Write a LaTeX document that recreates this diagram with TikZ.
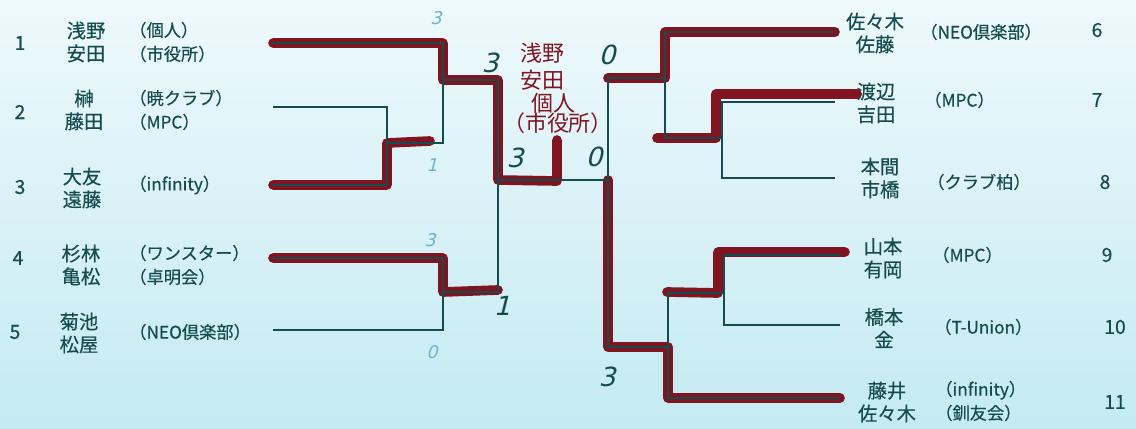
\documentclass[tikz,border=0pt]{standalone}
\usepackage{fontspec}
\setmainfont{Noto Sans CJK JP}[FakeBold=0.4]
\newfontfamily\penfont[FakeSlant=0.25]{DejaVu Sans}
\newfontfamily\brushfont{Noto Sans CJK JP}
\usetikzlibrary{positioning,calc}

\definecolor{ink}{RGB}{22,76,78}
\definecolor{marker}{RGB}{128,20,32}
\definecolor{paperhi}{RGB}{238,249,251}
\definecolor{paperlo}{RGB}{196,234,243}
\definecolor{faint}{RGB}{105,185,200}

\begin{document}
\begin{tikzpicture}[x=0.02cm, y=-0.02cm,
    player/.style={align=center, text=ink, inner sep=0pt, font=\fontsize{11}{13}\selectfont},
    team/.style={anchor=west, align=left, text=ink, inner sep=0pt, font=\fontsize{9.8}{13.6}\selectfont},
    seed/.style={text=ink, inner sep=0pt, font=\fontsize{11}{13}\selectfont},
    bline/.style={ink, line width=0.9pt},
    win/.style={marker, line width=5.5pt, line cap=round, line join=round},
    score/.style={text=ink, inner sep=0pt, font=\penfont\fontsize{15}{15}\selectfont},
    ghost/.style={text=faint, inner sep=0pt, font=\penfont\fontsize{10}{10}\selectfont},
    hand/.style={text=marker, inner sep=0pt, font=\brushfont\fontsize{12.5}{13}\selectfont}]
  \shade[top color=paperhi, bottom color=paperlo] (0,0) rectangle (1136,429);
  \useasboundingbox (0,0) rectangle (1136,429);

  % left side
  \node[seed] (s1) at (20,43) {1};
  \node[seed] (s2) at (20,112) {2};
  \node[seed] (s3) at (20,187) {3};
  \node[seed] (s4) at (18,258) {4};
  \node[seed] (s5) at (15,332) {5};
  \node[player] (n1) at (86,42) {浅野\\安田};
  \node[player] (n2) at (84,110) {榊\\藤田};
  \node[player] (n3) at (82,188) {大友\\遠藤};
  \node[player] (n4) at (81,265) {杉林\\亀松};
  \node[player] (n5) at (79,333) {菊池\\松屋};
  \node[team] (t1) at (129,42) {（個人）\\（市役所）};
  \node[team] (t2) at (129,110) {（暁クラブ）\\（MPC）};
  \node[team] (t3) at (129,185) {（infinity）};
  \node[team] (t4) at (129,265) {（ワンスター）\\（卓明会）};
  \node[team] (t5) at (129,332) {（NEO倶楽部）};

  % right side
  \node[player] (n6) at (875,33) {佐々木\\佐藤};
  \node[player] (n7) at (876,103) {渡辺\\吉田};
  \node[player] (n8) at (880,178) {本間\\市橋};
  \node[player] (n9) at (883,258) {山本\\有岡};
  \node[player] (n10) at (884,328) {橋本\\金};
  \node[player] (n11) at (887,402) {藤井\\佐々木};
  \node[team] (t6) at (920,32) {（NEO倶楽部）};
  \node[team] (t7) at (924,100) {（MPC）};
  \node[team] (t8) at (927,182) {（クラブ柏）};
  \node[team] (t9) at (932,255) {（MPC）};
  \node[team] (t10) at (934,327) {（T-Union）};
  \node[team] (t11) at (935,401) {（infinity）\\（釧友会）};
  \node[seed] (s6) at (1097,30) {6};
  \node[seed] (s7) at (1097,100) {7};
  \node[seed] (s8) at (1105,182) {8};
  \node[seed] (s9) at (1107,255) {9};
  \node[seed] (s10) at (1115,327) {10};
  \node[seed] (s11) at (1115,402) {11};

  % line ends and joins
  \coordinate (a1) at (273,43);
  \coordinate (a2) at (273,107);
  \coordinate (a3) at (273,185);
  \coordinate (a4) at (273,258);
  \coordinate (a5) at (273,330);
  \coordinate (b6) at (835,32);
  \coordinate (b7) at (835,102);
  \coordinate (b8) at (835,178);
  \coordinate (b9) at (840,255);
  \coordinate (b10) at (840,325);
  \coordinate (b11) at (840,398);
  \coordinate (q23) at (387,143);
  \coordinate (q1) at (443,80);
  \coordinate (q45) at (443,292);
  \coordinate (sf) at (498,180);
  \coordinate (fr) at (608,180);
  \coordinate (ft) at (608,78);
  \coordinate (p78) at (722,138);
  \coordinate (p6) at (665,78);
  \coordinate (p910) at (724,293);
  \coordinate (p11) at (668,347);

  % marker strokes
  \draw[win] (a1) -| (q1) -| (sf) -- (557,181) -- (557,140);
  \draw[win] (a3) -| (q23) -- (430,141);
  \draw[win] (a4) -| (q45) -- (498,290);
  \draw[win] (ft) -- (p6) |- (b6);
  \draw[win] ($(b7)+(22,-8)$) -| ($(p78)+(-6,0)$) -- ($(p78)+(-65,0)$);
  \draw[win] (fr) |- (p11) |- (b11);
  \draw[win] ($(b9)+(5,-3)$) -| ($(p910)+(-6,0)$) -- ($(p910)+(-57,-1)$);

  % bracket
  \draw[bline] (a2) -| (q23) |- (a3);
  \draw[bline] (a1) -| (q1) |- (q23);
  \draw[bline] (a4) -| (q45) |- (a5);
  \draw[bline] (q1) -| (sf) |- (q45);
  \draw[bline] (sf) -- (fr);
  \draw[bline] (b7) -| (p78) |- (b8);
  \draw[bline] (b6) -| (p6) |- (p78);
  \draw[bline] (b9) -| (p910) |- (b10);
  \draw[bline] (p910) -| (p11) |- (b11);
  \draw[bline] (p6) -| (fr) |- (p11);

  % scores
  \node[score] (sc1) at (490,63) {3};
  \node[score] (sc2) at (515,158) {3};
  \node[score] (sc3) at (607,55) {0};
  \node[score] (sc4) at (594,157) {0};
  \node[score] (sc5) at (502,306) {1};
  \node[score] (sc6) at (607,377) {3};
  \node[ghost] (g1) at (436,18) {3};
  \node[ghost] (g2) at (432,165) {1};
  \node[ghost] (g3) at (430,240) {3};
  \node[ghost] (g4) at (432,352) {0};

  % winner
  \node[hand] (w1) at (542,53) {浅野};
  \node[hand] (w2) at (542,80) {安田};
  \node[hand] (w3) at (553,103) {個人};
  \node[hand] (w4) at (558,123) {（市役所）};
\end{tikzpicture}
\end{document}
